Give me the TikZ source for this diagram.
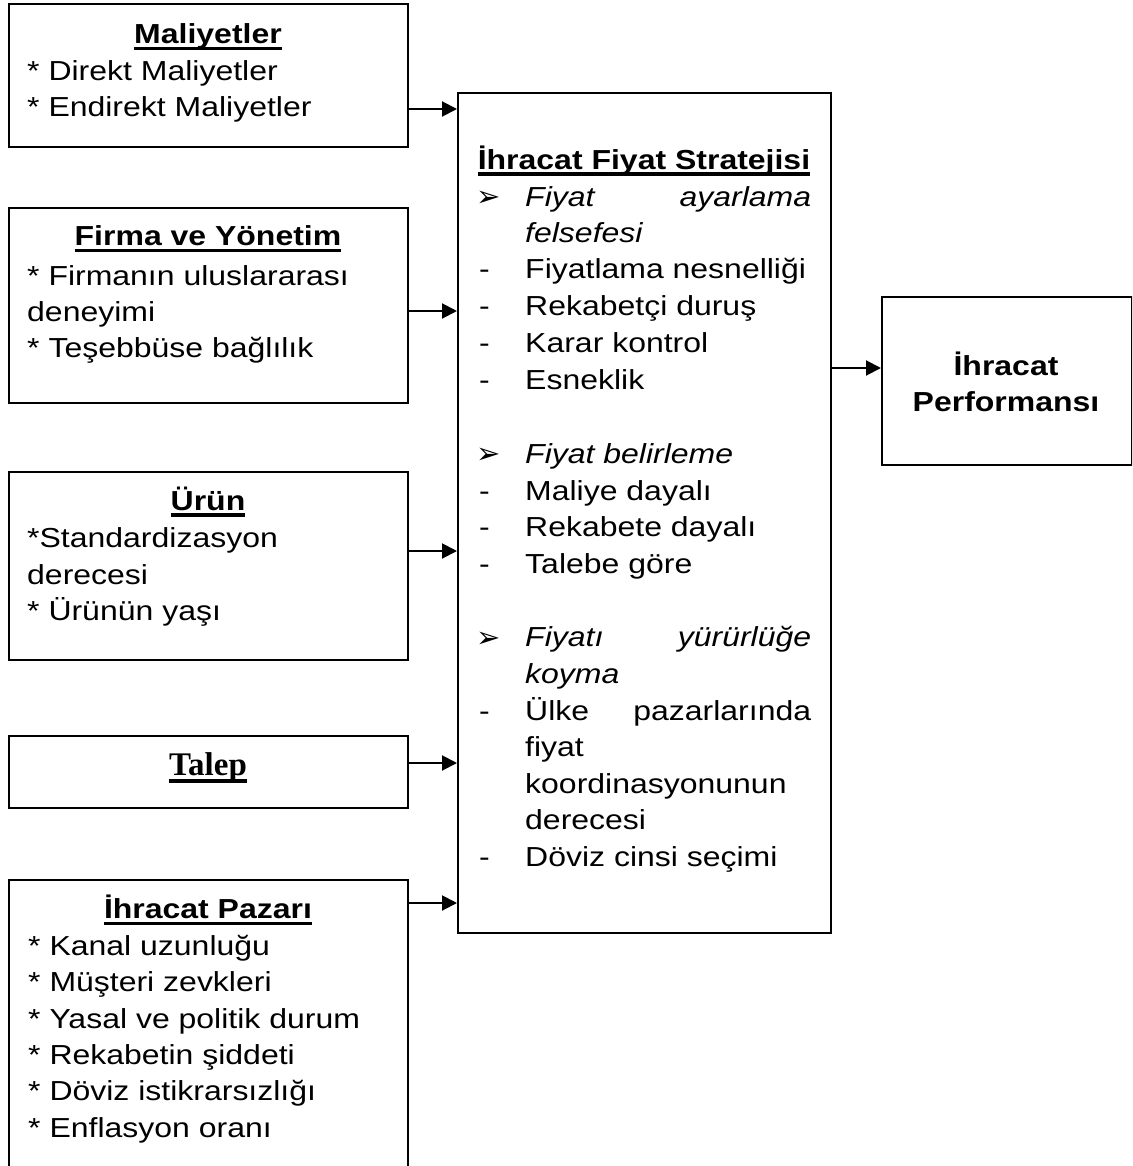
\documentclass[tikz,border=0pt]{standalone}
\usepackage{fontspec}
\setmainfont{Liberation Sans}[FakeStretch=1.163]
\newfontfamily\talepfont{Liberation Serif}
\newfontfamily\dingfont{DejaVu Sans}
\usetikzlibrary{arrows.meta}

% underlined heading: thick rule just below the baseline
\newcommand\headul[2][-6.6pt]{\setbox0=\hbox{#2}\rlap{\rule[#1]{\wd0}{3.2pt}}\box0}
\newcommand\pointer{{\dingfont\fontsize{29}{29}\selectfont ➢}}

\begin{document}
\begin{tikzpicture}[x=1pt,y=-1pt,
  font=\fontsize{27.5}{36}\selectfont,
  box/.style={draw, line width=2pt, rectangle, inner sep=0pt, anchor=north west},
  ln/.style={anchor=base west, inner sep=0pt},
  hd/.style={anchor=base, inner sep=0pt, font=\fontsize{27.5}{36}\selectfont\bfseries},
  arr/.style={line width=2pt, -{Triangle[length=15pt,width=15pt]}}]

\useasboundingbox (0,0) rectangle (1132,1166);
\clip (0,0) rectangle (1132,1166);
\fill[white] (0,0) rectangle (1132,1166);

% ---------- boxes ----------
\node[box, minimum width=399pt, minimum height=143pt] (mal)   at (8,3)   {};
\node[box, minimum width=399pt, minimum height=195pt] (firma) at (8,207) {};
\node[box, minimum width=399pt, minimum height=188pt] (urun)  at (8,471) {};
\node[box, minimum width=399pt, minimum height=72pt]  (talep) at (8,735) {};
\node[box, minimum width=399pt, minimum height=320pt] (pazar) at (8,879) {};
\node[box, minimum width=373pt, minimum height=840pt] (mid)   at (457,92) {};
\node[box, minimum width=250pt, minimum height=168pt] (perf)  at (881,296) {};

% ---------- Maliyetler ----------
\node[hd] (malh) at (208,43.3) {\headul{Maliyetler}};
\node[ln] (mal1) at (27,81)    {* Direkt Maliyetler};
\node[ln] (mal2) at (27,116.7) {* Endirekt Maliyetler};

% ---------- Firma ve Yönetim ----------
\node[hd] (firh) at (208,245.7) {\headul{Firma ve Yönetim}};
\node[ln] (fir1) at (27,285.3) {* Firmanın uluslararası};
\node[ln] (fir2) at (27,321.5) {deneyimi};
\node[ln] (fir3) at (27,357)   {* Teşebbüse bağlılık};

% ---------- Ürün ----------
\node[hd] (urh) at (208,510) {\headul{Ürün}};
\node[ln] (ur1) at (27,547.7) {*Standardizasyon};
\node[ln] (ur2) at (27,584)   {derecesi};
\node[ln] (ur3) at (27,620)   {* Ürünün yaşı};

% ---------- Talep ----------
\node[anchor=base, inner sep=0pt, font=\talepfont\fontsize{33}{36}\selectfont\bfseries]
  (talh) at (208,775) {\headul[-7.6pt]{Talep}};

% ---------- İhracat Pazarı ----------
\node[hd] (pzh) at (208,918.3) {\headul{İhracat Pazarı}};
\node[ln] (pz1) at (28,955.7)  {* Kanal uzunluğu};
\node[ln] (pz2) at (28,991.7)  {* Müşteri zevkleri};
\node[ln] (pz3) at (28,1028.3) {* Yasal ve politik durum};
\node[ln] (pz4) at (28,1064)   {* Rekabetin şiddeti};
\node[ln] (pz5) at (28,1100.7) {* Döviz istikrarsızlığı};
\node[ln] (pz6) at (28,1137.7) {* Enflasyon oranı};

% ---------- İhracat Fiyat Stratejisi ----------
\node[hd] (midh) at (644,169.5) {\headul[-6.2pt]{İhracat Fiyat Stratejisi}};

\node[ln] (b1) at (476,207) {\pointer};
\node[ln] (t1) at (525,206.7) {\hbox to 286pt{\itshape Fiyat\hfill ayarlama}};
\node[ln] (t2) at (525,242.5) {\itshape felsefesi};
\node[ln] (d3) at (479,278.3) {-};
\node[ln] (t3) at (525,278.3) {Fiyatlama nesnelliği};
\node[ln] (d4) at (479,315)   {-};
\node[ln] (t4) at (525,315)   {Rekabetçi duruş};
\node[ln] (d5) at (479,352.3) {-};
\node[ln] (t5) at (525,352.3) {Karar kontrol};
\node[ln] (d6) at (479,389.3) {-};
\node[ln] (t6) at (525,389.3) {Esneklik};

\node[ln] (b7) at (476,463.6) {\pointer};
\node[ln] (t7) at (525,463.3) {\itshape Fiyat belirleme};
\node[ln] (d8) at (479,500)   {-};
\node[ln] (t8) at (525,500)   {Maliye dayalı};
\node[ln] (d9) at (479,536.7) {-};
\node[ln] (t9) at (525,536.7) {Rekabete dayalı};
\node[ln] (d10) at (479,573.3) {-};
\node[ln] (t10) at (525,573.3) {Talebe göre};

\node[ln] (b11) at (476,647) {\pointer};
\node[ln] (t11) at (525,646.7) {\hbox to 286pt{\itshape Fiyatı\hfill yürürlüğe}};
\node[ln] (t12) at (525,683.3) {\itshape koyma};
\node[ln] (d13) at (479,720)   {-};
\node[ln] (t13) at (525,720)   {\hbox to 286pt{Ülke\hfill pazarlarında}};
\node[ln] (t14) at (525,756.7) {fiyat};
\node[ln] (t15) at (525,793.3) {koordinasyonunun};
\node[ln] (t16) at (525,829.3) {derecesi};
\node[ln] (d17) at (479,866.7) {-};
\node[ln] (t17) at (525,866.7) {Döviz cinsi seçimi};

% ---------- İhracat Performansı ----------
\node[hd] (pf1) at (1006,375)   {İhracat};
\node[hd] (pf2) at (1006,411.7) {Performansı};

% ---------- connectors ----------
\coordinate (ya) at (0,109);
\coordinate (yb) at (0,311);
\coordinate (yc) at (0,551);
\coordinate (yd) at (0,763);
\coordinate (ye) at (0,903);
\coordinate (yf) at (0,368);
\draw[arr] (mal.east   |- ya) -- (mid.west |- ya);
\draw[arr] (firma.east |- yb) -- (mid.west |- yb);
\draw[arr] (urun.east  |- yc) -- (mid.west |- yc);
\draw[arr] (talep.east |- yd) -- (mid.west |- yd);
\draw[arr] (pazar.east |- ye) -- (mid.west |- ye);
\draw[arr] (mid.east   |- yf) -- (perf.west |- yf);
\end{tikzpicture}
\end{document}
